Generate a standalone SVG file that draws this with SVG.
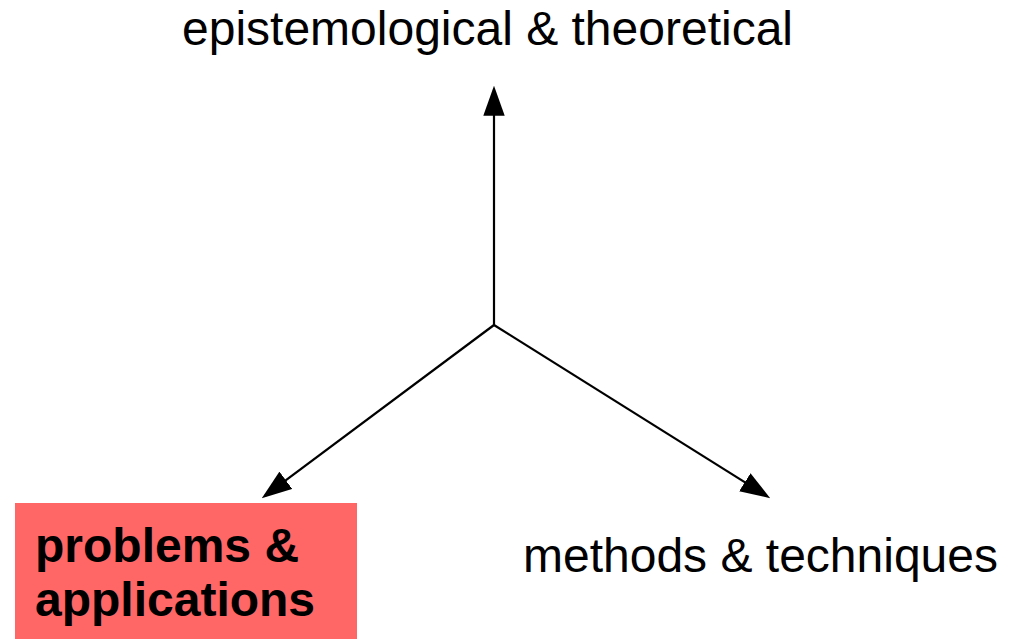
<svg xmlns="http://www.w3.org/2000/svg" width="1016" height="639" viewBox="0 0 1016 639">
<style>
.lbl{font-family:"Liberation Sans",Arial,sans-serif;font-size:48px;fill:#000}
.b{font-weight:bold}
.conn{stroke:#000;stroke-width:2.2;fill:none}
</style>
<defs>
<marker id="ah" markerUnits="userSpaceOnUse" markerWidth="30" markerHeight="22" refX="24" refY="10" orient="auto" viewBox="0 0 28 20">
<path d="M0,0 L28,10 L0,20 z" fill="#000"/>
</marker>
</defs>
<rect width="1016" height="639" fill="#fff"/>
<g id="connectors">
<line class="conn" x1="494" y1="325" x2="494" y2="90" marker-end="url(#ah)"/>
<line class="conn" x1="494" y1="325" x2="265.2" y2="495.6" marker-end="url(#ah)"/>
<line class="conn" x1="494" y1="325" x2="766.6" y2="495.9" marker-end="url(#ah)"/>
</g>
<g id="node-epistemological">
<text class="lbl" x="182" y="45">epistemological &amp; theoretical</text>
</g>
<g id="node-problems">
<rect x="15" y="503" width="342" height="136" fill="#ff6666"/>
<text class="lbl b" x="35" y="562">problems &amp;</text>
<text class="lbl b" x="35" y="616">applications</text>
</g>
<g id="node-methods">
<text class="lbl" x="523" y="572">methods &amp; techniques</text>
</g>
</svg>
